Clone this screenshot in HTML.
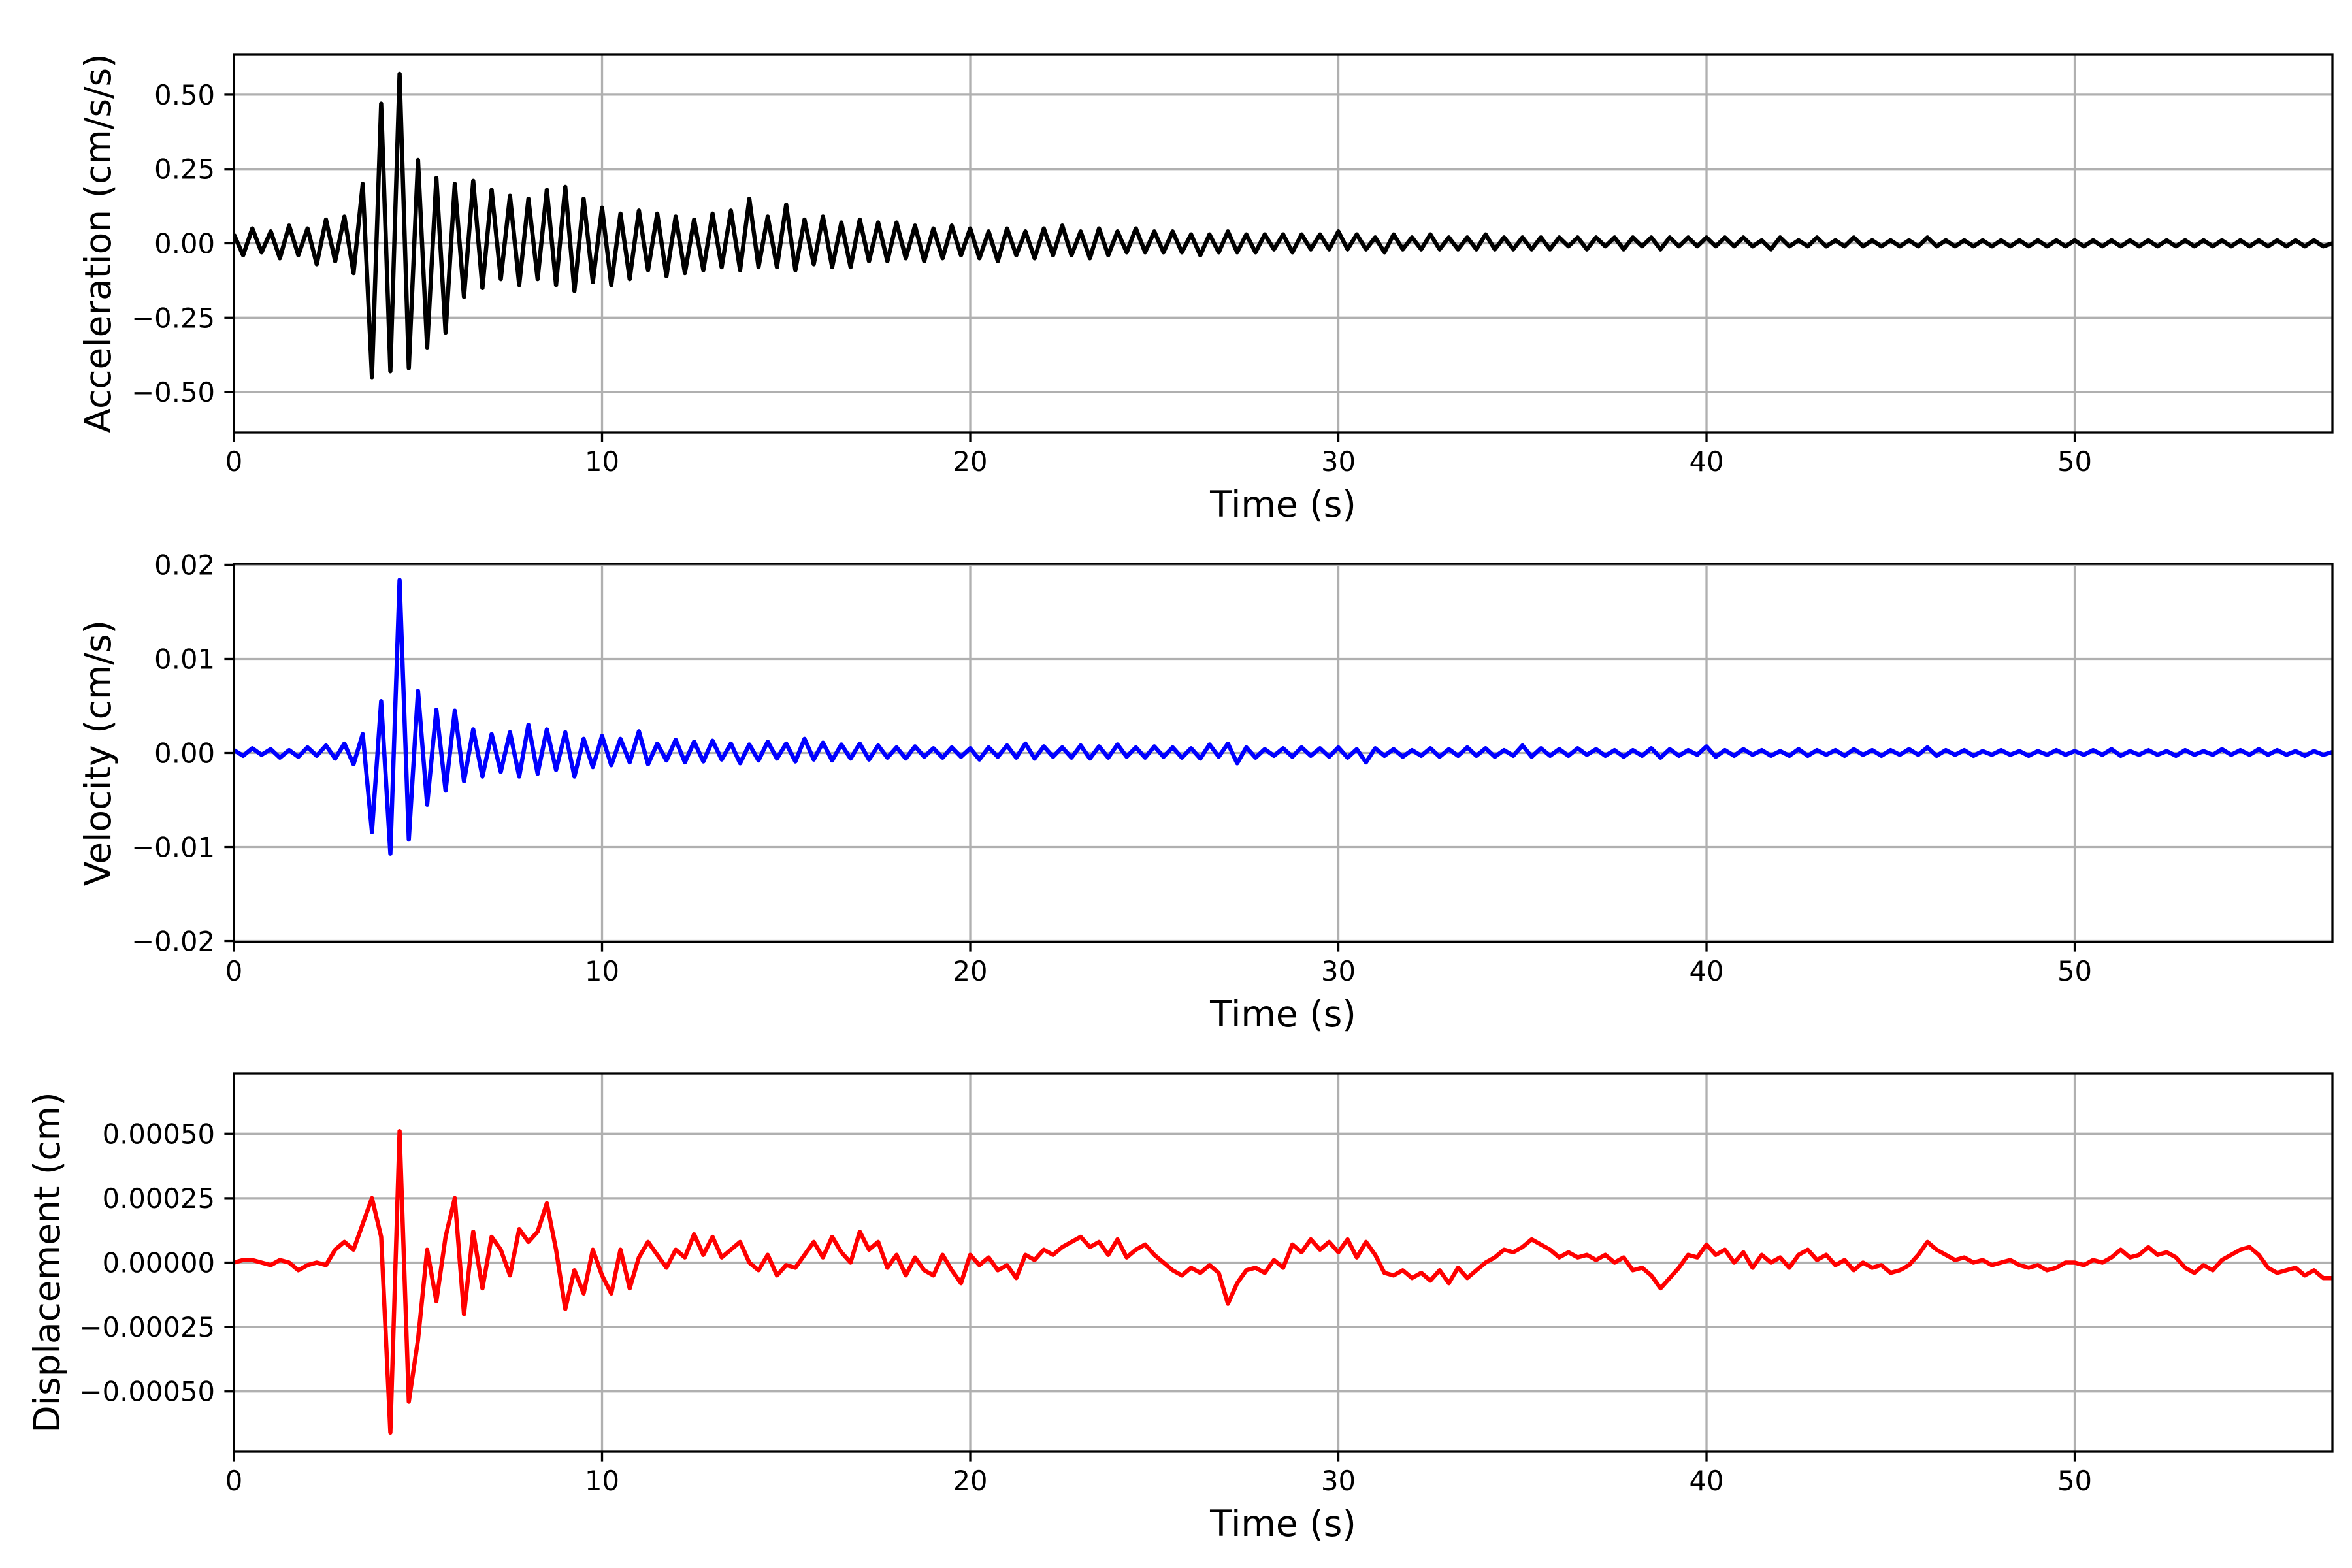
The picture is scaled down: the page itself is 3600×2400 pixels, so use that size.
<!DOCTYPE html>
<html><head><meta charset="utf-8"><style>
html,body{margin:0;padding:0;background:#fff;}
svg{display:block;font-family:"DejaVu Sans","Liberation Sans",sans-serif;}
</style></head>
<body>
<svg id="fig" width="3600" height="2400" viewBox="0 0 3600 2400" xmlns="http://www.w3.org/2000/svg"></svg>
<script>
// ---- data (sampled every 0.25 s from t=0) ----
const dt = 0.25;
const xTicks = [0, 10, 20, 30, 40, 50];
// acceleration in units of 0.01 cm/s/s
const accScale = 0.01;
const accValues = [
3,-4,5,-3,4,-5,6,-4,5,-7,8,-6,9,-10,20,-45,47,-43,57,-42,
28,-35,22,-30,20,-18,21,-15,18,-12,16,-14,15,-12,18,-14,19,-16,15,-13,
12,-14,10,-12,11,-9,10,-11,9,-10,8,-9,10,-8,11,-9,15,-8,9,-8,
13,-9,8,-7,9,-8,7,-8,8,-6,7,-6,7,-5,6,-6,5,-5,6,-4,
5,-5,4,-6,5,-4,4,-5,5,-4,6,-4,4,-5,5,-4,4,-3,5,-3,
4,-3,4,-3,3,-4,3,-3,4,-3,3,-3,3,-2,3,-3,3,-2,3,-2,
4,-2,3,-2,2,-3,3,-2,2,-2,3,-2,2,-2,2,-2,3,-2,2,-2,
2,-2,2,-2,2,-1,2,-2,2,-1,2,-2,2,-1,2,-2,2,-1,2,-1,
2,-1,2,-1,2,-1,1,-2,2,-1,1,-1,2,-1,1,-1,2,-1,1,-1,
1,-1,1,-1,2,-1,1,-1,1,-1,1,-1,1,-1,1,-1,1,-1,1,-1,
1,-1,1,-1,1,-1,1,-1,1,-1,1,-1,1,-1,1,-1,1,-1,1,-1,
1,-1,1,-1,1,-1,1,-1,0
];
const accTicks = [-0.5, -0.25, 0, 0.25, 0.5];
const accTickLabels = ["\u22120.50","\u22120.25","0.00","0.25","0.50"];
// velocity in units of 0.001 cm/s
const velScale = 0.001;
const velValues = [
0.3,-0.3,0.5,-0.2,0.4,-0.5,0.3,-0.4,0.6,-0.3,0.8,-0.6,1,-1.2,2,-8.4,5.5,-10.7,18.4,-9.2,
6.6,-5.5,4.6,-4,4.5,-3,2.5,-2.5,2,-2,2.2,-2.5,3,-2.2,2.5,-1.8,2.2,-2.5,1.5,-1.5,
1.8,-1.3,1.5,-1,2.3,-1.2,1,-0.8,1.4,-1,1.2,-0.9,1.3,-0.7,1,-1.1,0.9,-0.8,1.2,-0.6,
1,-0.9,1.5,-0.7,1.1,-0.8,0.9,-0.6,1,-0.7,0.8,-0.5,0.6,-0.6,0.7,-0.4,0.5,-0.5,0.6,-0.4,
0.5,-0.7,0.6,-0.4,0.8,-0.5,1,-0.6,0.7,-0.4,0.6,-0.5,0.8,-0.6,0.7,-0.5,0.9,-0.4,0.6,-0.5,
0.7,-0.4,0.6,-0.5,0.5,-0.6,0.9,-0.4,1,-1.1,0.6,-0.5,0.4,-0.3,0.5,-0.4,0.6,-0.3,0.5,-0.4,
0.6,-0.5,0.4,-1,0.5,-0.3,0.4,-0.4,0.3,-0.3,0.5,-0.4,0.4,-0.3,0.6,-0.3,0.5,-0.4,0.3,-0.3,
0.8,-0.4,0.5,-0.3,0.4,-0.3,0.5,-0.2,0.4,-0.3,0.3,-0.4,0.3,-0.3,0.5,-0.5,0.4,-0.3,0.3,-0.2,
0.7,-0.4,0.3,-0.3,0.4,-0.2,0.3,-0.3,0.2,-0.3,0.4,-0.3,0.3,-0.2,0.3,-0.3,0.4,-0.2,0.3,-0.3,
0.3,-0.2,0.4,-0.2,0.6,-0.3,0.3,-0.2,0.3,-0.3,0.2,-0.2,0.3,-0.2,0.2,-0.3,0.2,-0.2,0.3,-0.2,
0.2,-0.2,0.3,-0.2,0.4,-0.3,0.2,-0.2,0.3,-0.2,0.2,-0.3,0.3,-0.2,0.2,-0.2,0.4,-0.2,0.3,-0.2,
0.4,-0.2,0.3,-0.2,0.2,-0.3,0.2,-0.2,0.1
];
const velTicks = [-0.02, -0.01, 0, 0.01, 0.02];
const velTickLabels = ["\u22120.02","\u22120.01","0.00","0.01","0.02"];
// displacement in units of 0.0001 cm
const dispScale = 0.0001;
const dispValues = [
0,0.1,0.1,0,-0.1,0.1,0,-0.3,-0.1,0,-0.1,0.5,0.8,0.5,1.5,2.5,1,-6.6,5.1,-5.4,
-3,0.5,-1.5,1,2.5,-2,1.2,-1,1,0.5,-0.5,1.3,0.8,1.2,2.3,0.5,-1.8,-0.3,-1.2,0.5,
-0.5,-1.2,0.5,-1,0.2,0.8,0.3,-0.2,0.5,0.2,1.1,0.3,1,0.2,0.5,0.8,0,-0.3,0.3,-0.5,
-0.1,-0.2,0.3,0.8,0.2,1,0.4,0,1.2,0.5,0.8,-0.2,0.3,-0.5,0.2,-0.3,-0.5,0.3,-0.3,-0.8,
0.3,-0.1,0.2,-0.3,-0.1,-0.6,0.3,0.1,0.5,0.3,0.6,0.8,1,0.6,0.8,0.3,0.9,0.2,0.5,0.7,
0.3,0,-0.3,-0.5,-0.2,-0.4,-0.1,-0.4,-1.6,-0.8,-0.3,-0.2,-0.4,0.1,-0.2,0.7,0.4,0.9,0.5,0.8,
0.4,0.9,0.2,0.8,0.3,-0.4,-0.5,-0.3,-0.6,-0.4,-0.7,-0.3,-0.8,-0.2,-0.6,-0.3,0,0.2,0.5,0.4,
0.6,0.9,0.7,0.5,0.2,0.4,0.2,0.3,0.1,0.3,0,0.2,-0.3,-0.2,-0.5,-1,-0.6,-0.2,0.3,0.2,
0.7,0.3,0.5,0,0.4,-0.2,0.3,0,0.2,-0.2,0.3,0.5,0.1,0.3,-0.1,0.1,-0.3,0,-0.2,-0.1,
-0.4,-0.3,-0.1,0.3,0.8,0.5,0.3,0.1,0.2,0,0.1,-0.1,0,0.1,-0.1,-0.2,-0.1,-0.3,-0.2,0,
0,-0.1,0.1,0,0.2,0.5,0.2,0.3,0.6,0.3,0.4,0.2,-0.2,-0.4,-0.1,-0.3,0.1,0.3,0.5,0.6,
0.3,-0.2,-0.4,-0.3,-0.2,-0.5,-0.3,-0.6,-0.6
];
const dispTicks = [-0.0005, -0.00025, 0, 0.00025, 0.0005];
const dispTickLabels = ["\u22120.00050","\u22120.00025","0.00000","0.00025","0.00050"];

// ---- drawing ----
const NS = "http://www.w3.org/2000/svg";
const svg = document.getElementById("fig");
const L = 358, R = 3570, H = 579, XMAX = 57;
function xs(t){ return L + (t / XMAX) * (R - L); }
function mk(tag, attrs, parent){
  const e = document.createElementNS(NS, tag);
  for (const k in attrs) e.setAttribute(k, attrs[k]);
  (parent || svg).appendChild(e);
  return e;
}
const panels = [
  {key:"acceleration", top:83, lim:0.636, vals:accValues, scale:accScale, ticks:accTicks, labels:accTickLabels, color:"#000000", ylabel:"Acceleration (cm/s/s)", ylx:150},
  {key:"velocity", top:863, lim:0.0201, vals:velValues, scale:velScale, ticks:velTicks, labels:velTickLabels, color:"#0000ff", ylabel:"Velocity (cm/s)", ylx:150},
  {key:"displacement", top:1643, lim:0.000734, vals:dispValues, scale:dispScale, ticks:dispTicks, labels:dispTickLabels, color:"#ff0000", ylabel:"Displacement (cm)", ylx:72}
];
panels.forEach(p => {
  const g = mk("g", {});
  
  
  const bot = p.top + H;
  const ys = v => p.top + H/2 - (v / p.lim) * (H/2);
  xTicks.forEach(t => {
    const ln = mk("line", {x1:xs(t), x2:xs(t), y1:p.top, y2:bot, stroke:"#b0b0b0", "stroke-width":3.3}, g);
    
    
  });
  p.ticks.forEach(v => {
    const ln = mk("line", {x1:L, x2:R, y1:ys(v), y2:ys(v), stroke:"#b0b0b0", "stroke-width":3.3}, g);
    
    
  });
  const clipId = "clip-" + p.key;
  const cp = mk("clipPath", {id:clipId}, g);
  mk("rect", {x:L, y:p.top, width:R-L, height:H}, cp);
  const pts = p.vals.map((v,i) => xs(i*dt).toFixed(1) + "," + ys(v*p.scale).toFixed(1)).join(" ");
  const pl = mk("polyline", {points:pts, fill:"none", stroke:p.color, "stroke-width":6.5, "stroke-linejoin":"round", "clip-path":"url(#"+clipId+")"}, g);
  
  
  const fr = mk("rect", {x:L, y:p.top, width:R-L, height:H, fill:"none", stroke:"#000", "stroke-width":3.3}, g);
  
  
  xTicks.forEach(t => {
    mk("line", {x1:xs(t), x2:xs(t), y1:bot, y2:bot+14.6, stroke:"#000", "stroke-width":3.3}, g);
    const tx = mk("text", {x:xs(t), y:bot+59, "font-size":41.7, "text-anchor":"middle", fill:"#000"}, g);
    tx.textContent = String(t);
    
    
  });
  p.ticks.forEach((v,i) => {
    mk("line", {x1:L-14.6, x2:L, y1:ys(v), y2:ys(v), stroke:"#000", "stroke-width":3.3}, g);
    const tx = mk("text", {x:L-29, y:ys(v)+15, "font-size":41.7, "text-anchor":"end", fill:"#000"}, g);
    tx.textContent = p.labels[i];
    
    
  });
  const xl = mk("text", {x:(L+R)/2, y:bot+129, "font-size":55, "text-anchor":"middle", fill:"#000"}, g);
  xl.textContent = "Time (s)";
  
  
  const cy = p.top + H/2;
  const yl = mk("text", {x:p.ylx, y:cy, "font-size":55, "text-anchor":"middle", "dominant-baseline":"central", fill:"#000", transform:"rotate(-90 "+p.ylx+" "+cy+")"}, g);
  yl.textContent = p.ylabel;
  
  
});
</script>
</body></html>
